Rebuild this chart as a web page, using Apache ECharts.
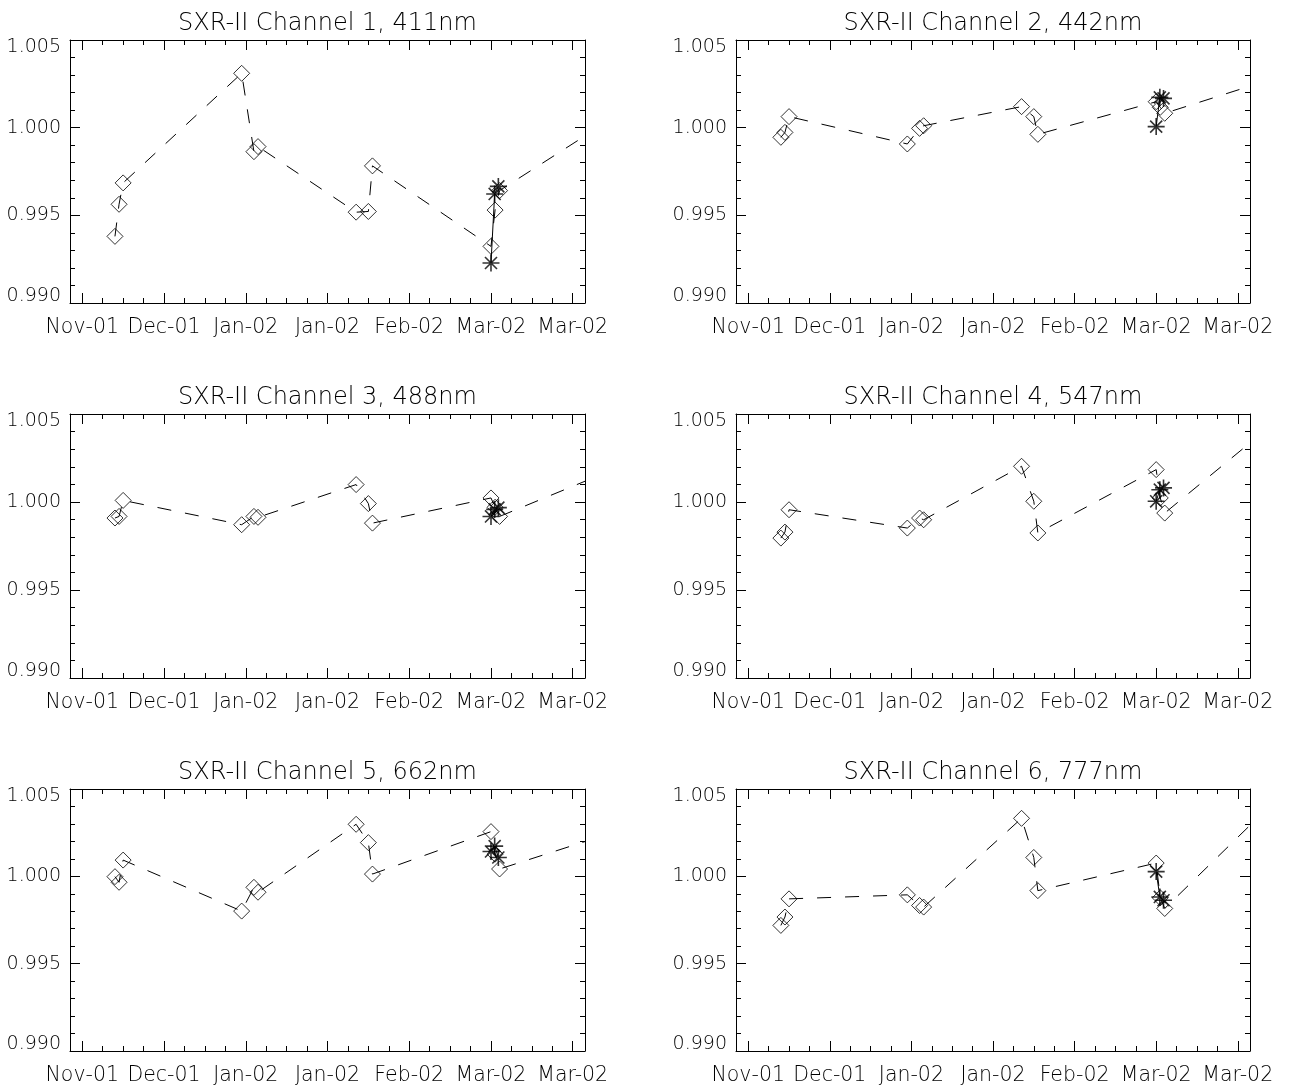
<!DOCTYPE html>
<html>
<head>
<meta charset="utf-8">
<script src="https://cdn.jsdelivr.net/npm/echarts@6/dist/echarts.min.js"></script>
<style>
html,body{margin:0;padding:0;background:#ffffff;}
#chart{width:1292px;height:1086px;}
</style>
</head>
<body>
<div id="chart"></div>
<script>
// ---------------- data ----------------
const panelTitles = [
  "SXR-II Channel 1, 411nm",
  "SXR-II Channel 2, 442nm",
  "SXR-II Channel 3, 488nm",
  "SXR-II Channel 4, 547nm",
  "SXR-II Channel 5, 662nm",
  "SXR-II Channel 6, 777nm"
];
// x in days after the first labelled tick
const xTickDays = [0, 20, 40, 60, 80, 100, 120];
const xTickLabels = ["Nov-01", "Dec-01", "Jan-02", "Jan-02", "Feb-02", "Mar-02", "Mar-02"];
const xMinorDays = [5, 10, 15, 25, 30, 35, 45, 50, 55, 65, 70, 75, 85, 90, 95, 105, 110, 115];
const xRange = [-3, 123];
const yRange = [0.990, 1.005];

const diamondDays = [8.0, 9.0, 10.0, 39.0, 42.0, 43.0, 67.0, 70.0, 71.0, 100.0, 101.0, 102.1];
const trendEndDay = 123;
const starDays = [100.0, 100.9, 101.8];

const ch1Diamonds = [0.99380, 0.99563, 0.99685, 1.00310, 0.99863, 0.99892, 0.99518, 0.99522, 0.99782, 0.99323, 0.99530, 0.99641];
const ch1TrendEnd = 0.99953;
const ch1Stars = [0.99228, 0.99622, 0.99665];

const ch2Diamonds = [0.99945, 0.99973, 1.00063, 0.99907, 0.99996, 1.00011, 1.00120, 1.00063, 0.99962, 1.00148, 1.00116, 1.00082];
const ch2TrendEnd = 1.00237;
const ch2Stars = [1.00006, 1.00173, 1.00167];

const ch3Diamonds = [0.99909, 0.99918, 1.00009, 0.99871, 0.99918, 0.99913, 1.00099, 0.99991, 0.99880, 1.00023, 0.99970, 0.99918];
const ch3TrendEnd = 1.00118;
const ch3Stars = [0.99918, 0.99958, 0.99968];

const ch4Diamonds = [0.99795, 0.99829, 0.99956, 0.99852, 0.99909, 0.99899, 1.00203, 1.00004, 0.99824, 1.00184, 1.00023, 0.99937];
const ch4TrendEnd = 1.00336;
const ch4Stars = [1.00004, 1.00070, 1.00080];

const ch5Diamonds = [0.99998, 0.99966, 1.00093, 0.99801, 0.99937, 0.99909, 1.00298, 1.00193, 1.00013, 1.00256, 1.00127, 1.00042];
const ch5TrendEnd = 1.00199;
const ch5Stars = [1.00142, 1.00173, 1.00108];

const ch6Diamonds = [0.99719, 0.99767, 0.99871, 0.99894, 0.99833, 0.99824, 1.00332, 1.00108, 0.99918, 1.00076, 0.99877, 0.99816];
const ch6TrendEnd = 1.00292;
const ch6Stars = [1.00027, 0.99882, 0.99863];

const allDiamonds = [ch1Diamonds, ch2Diamonds, ch3Diamonds, ch4Diamonds, ch5Diamonds, ch6Diamonds];
const allTrendEnds = [ch1TrendEnd, ch2TrendEnd, ch3TrendEnd, ch4TrendEnd, ch5TrendEnd, ch6TrendEnd];
const allStars = [ch1Stars, ch2Stars, ch3Stars, ch4Stars, ch5Stars, ch6Stars];

// ---------------- layout ----------------
const colBoxes = [{left: 70, width: 515}, {left: 736, width: 514}];
const rowBoxes = [{top: 40, height: 263}, {top: 414, height: 264}, {top: 789, height: 264}];

const FONT = "DejaVu Sans";
const WEIGHT = 300;
const INK = "#000000";
const starPath = "path://M0,-8L0,8M-8,0L8,0M-5.66,-5.66L5.66,5.66M-5.66,5.66L5.66,-5.66";

const grids = [], xAxes = [], yAxes = [], series = [], titles = [];

for (let p = 0; p < 6; p++) {
  const col = colBoxes[p % 2], row = rowBoxes[Math.floor(p / 2)];
  grids.push({left: col.left, top: row.top, width: col.width, height: row.height, containLabel: false});
  titles.push({
    text: panelTitles[p], left: col.left + col.width / 2, top: row.top - 28, textAlign: "center",
    padding: 0, itemGap: 0,
    textStyle: {fontFamily: FONT, fontSize: 24, fontWeight: WEIGHT, color: INK}
  });

  const baseX = {type: "value", gridIndex: p, min: xRange[0], max: xRange[1], splitLine: {show: false}};
  const xi = xAxes.length;
  // bottom major
  xAxes.push(Object.assign({}, baseX, {
    position: "bottom",
    axisLine: {show: true, onZero: false, lineStyle: {color: INK, width: 1}},
    axisTick: {show: true, inside: true, length: 10, customValues: xTickDays, lineStyle: {color: INK, width: 1}},
    axisLabel: {show: true, customValues: xTickDays, margin: 14, color: INK, fontFamily: FONT, fontSize: 20.5, fontWeight: WEIGHT,
      formatter: function (v) { const k = xTickDays.indexOf(Math.round(v)); return k >= 0 ? xTickLabels[k] : ""; }}
  }));
  // bottom minor
  xAxes.push(Object.assign({}, baseX, {
    position: "bottom",
    axisLine: {show: false, onZero: false},
    axisTick: {show: true, inside: true, length: 5, customValues: xMinorDays, lineStyle: {color: INK, width: 1}},
    axisLabel: {show: false}
  }));
  // top major
  xAxes.push(Object.assign({}, baseX, {
    position: "top",
    axisLine: {show: true, onZero: false, lineStyle: {color: INK, width: 1}},
    axisTick: {show: true, inside: true, length: 10, customValues: xTickDays, lineStyle: {color: INK, width: 1}},
    axisLabel: {show: false}
  }));
  // top minor
  xAxes.push(Object.assign({}, baseX, {
    position: "top",
    axisLine: {show: false, onZero: false},
    axisTick: {show: true, inside: true, length: 5, customValues: xMinorDays, lineStyle: {color: INK, width: 1}},
    axisLabel: {show: false}
  }));

  const baseY = {
    type: "value", gridIndex: p, min: yRange[0], max: yRange[1], interval: 0.005,
    splitLine: {show: false},
    axisLine: {show: true, onZero: false, lineStyle: {color: INK, width: 1}},
    axisTick: {show: true, inside: true, length: 10, lineStyle: {color: INK, width: 1}},
    minorTick: {show: true, splitNumber: 5, length: 5, lineStyle: {color: INK, width: 1}}
  };
  const yi = yAxes.length;
  yAxes.push(Object.assign({}, baseY, {
    position: "left",
    axisLabel: {show: true, margin: 9, color: INK, fontFamily: FONT, fontSize: 19, fontWeight: WEIGHT, lineHeight: 14,
      formatter: function (v) {
        const s = v.toFixed(3);
        if (Math.abs(v - yRange[1]) < 1e-9) return "\n" + s;
        if (Math.abs(v - yRange[0]) < 1e-9) return s + "\n";
        return s;
      }}
  }));
  yAxes.push(Object.assign({}, baseY, {position: "right", axisLabel: {show: false}}));

  const dia = allDiamonds[p].map((v, i) => [diamondDays[i], v]);
  const trend = dia.concat([[trendEndDay, allTrendEnds[p]]]);
  const stars = allStars[p].map((v, i) => [starDays[i], v]);

  series.push({
    type: "line", xAxisIndex: xi, yAxisIndex: yi, data: trend, symbol: "none", clip: true,
    lineStyle: {color: INK, width: 1, type: [14, 14]}, silent: true, animation: false
  });
  series.push({
    type: "scatter", xAxisIndex: xi, yAxisIndex: yi, data: dia, symbol: "diamond", symbolSize: 16,
    itemStyle: {color: "none", borderColor: INK, borderWidth: 1}, silent: true, animation: false
  });
  series.push({
    type: "line", xAxisIndex: xi, yAxisIndex: yi, data: stars, symbol: "none",
    lineStyle: {color: INK, width: 1, type: "solid"}, silent: true, animation: false
  });
  series.push({
    type: "scatter", xAxisIndex: xi, yAxisIndex: yi, data: stars, symbol: starPath, symbolSize: 17,
    itemStyle: {color: "none", borderColor: INK, borderWidth: 1.6}, silent: true, animation: false
  });
}

const chart = echarts.init(document.getElementById("chart"), null, {renderer: "canvas"});
chart.setOption({
  backgroundColor: "#ffffff",
  animation: false,
  title: titles,
  grid: grids,
  xAxis: xAxes,
  yAxis: yAxes,
  series: series
});
</script>
</body>
</html>
